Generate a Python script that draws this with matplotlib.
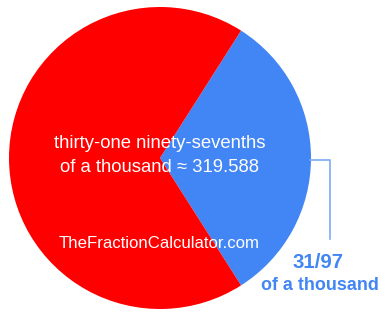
import matplotlib.pyplot as plt

# fraction shown: 31/97 of a thousand
numerator = 31
denominator = 97
slice_values = [numerator, denominator - numerator]
slice_colors = ["#4285f4", "#ff0000"]
center_lines = ["thirty-one ninety-sevenths", "of a thousand \u2248 319.588"]
label_lines = ["31/97", "of a thousand"]
site_name = "TheFractionCalculator.com"

W, H = 385, 320
plt.rcParams["font.family"] = ["Liberation Sans", "DejaVu Sans"]

fig = plt.figure(figsize=(W / 100, H / 100), dpi=100)


def px(x, y):
    return x / W, 1 - y / H


cx, cy, r = 160, 158, 151
ax = fig.add_axes([(cx - r) / W, (H - cy - r) / H, 2 * r / W, 2 * r / H])
half = slice_values[0] / sum(slice_values) * 360 / 2
ax.pie(slice_values, colors=slice_colors, startangle=-half, counterclock=True,
       wedgeprops={"linewidth": 0})
ax.set_xlim(-1, 1)
ax.set_ylim(-1, 1)
ax.set_aspect("equal")
ax.axis("off")

fs_center = 18.5 * 72 / 100
fig.text(*px(160, 144), center_lines[0], color="white", fontsize=fs_center, ha="center", va="center")
fig.text(*px(160, 168), center_lines[1], color="white", fontsize=fs_center, ha="center", va="center")
fig.text(*px(159, 244), site_name, color="white", fontsize=16.8 * 72 / 100, ha="center", va="center")

# leader line
fig.add_artist(plt.Line2D([310 / W, 330 / W, 330 / W], [1 - 160 / H, 1 - 160 / H, 1 - 239 / H],
                          color="#7baaf7", linewidth=1.2))
fig.text(*px(318, 263), label_lines[0], color="#4285f4", fontsize=20.4 * 72 / 100,
         fontweight="bold", ha="center", va="center")
fig.text(*px(320, 285), label_lines[1], color="#4285f4", fontsize=17.9 * 72 / 100,
         fontweight="bold", ha="center", va="center")

fig.savefig("out.png", dpi=100)
